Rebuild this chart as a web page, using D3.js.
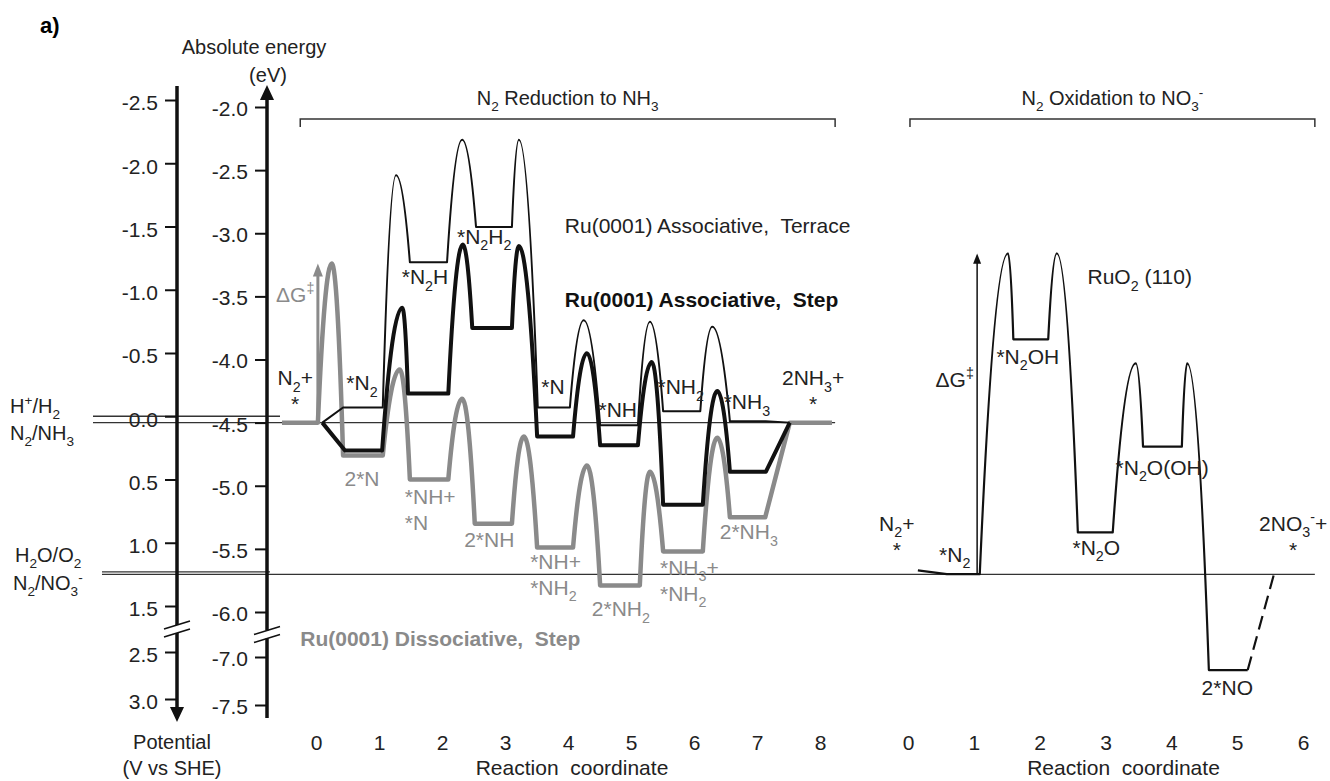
<!DOCTYPE html>
<html>
<head>
<meta charset="utf-8">
<script src="https://cdn.jsdelivr.net/npm/d3@7"></script>
<style>
    body { margin: 0; background: #fff; }
    svg text { font-family: "Liberation Sans", Arial, sans-serif; white-space: pre; }
</style>
</head>
<body>
<svg id="chart" width="1330" height="781"></svg>
<script>
'use strict';

// Axis tick labels
var potentialTicks  = [-2.5, -2.0, -1.5, -1.0, -0.5, 0.0, 0.5, 1.0, 1.5, 2.5, 3.0];   // V vs SHE
var energyTicks     = [-2.0, -2.5, -3.0, -3.5, -4.0, -4.5, -5.0, -5.5, -6.0, -7.0, -7.5]; // eV
var reductionCoords = [0, 1, 2, 3, 4, 5, 6, 7, 8];
var oxidationCoords = [0, 1, 2, 3, 4, 5, 6];

// Reference potentials (V vs SHE)
var refNames      = ['H^{+}/H_{2}', 'N_{2}/NH_{3}', 'H_{2}O/O_{2}', 'N_{2}/NO_{3}^{-}'];
var refPotentials = [0.00, 0.05, 1.23, 1.25];

// Intermediates: [coord from, coord to, G (eV)]; barriers: [coord, G] or null for a plain step
var terraceLevels = [[0.10, 0.10, -4.50], [0.43, 1.06, -4.38], [1.49, 2.08, -3.23], [2.54, 3.11, -2.95],
                     [3.52, 4.03, -4.38], [4.51, 5.11, -4.52], [5.51, 6.10, -4.41], [6.57, 7.14, -4.49],
                     [7.52, 7.52, -4.50]];
var terraceTS     = [null, [1.27, -2.54], [2.32, -2.26], [3.22, -2.26], [4.25, -3.69], [5.30, -3.70],
                     [6.29, -3.74], null];

var stepLevels    = [[0.10, 0.10, -4.50], [0.46, 1.05, -4.72], [1.46, 2.10, -4.27], [2.48, 3.11, -3.75],
                     [3.51, 4.08, -4.61], [4.51, 5.11, -4.68], [5.51, 6.14, -5.15], [6.57, 7.14, -4.89],
                     [7.52, 7.52, -4.50]];
var stepTS        = [null, [1.37, -3.59], [2.33, -3.09], [3.22, -3.10], [4.30, -3.95], [5.33, -4.02],
                     [6.37, -4.25], null];

var dissLevels    = [[-0.54, 0.03, -4.50], [0.43, 1.06, -4.76], [1.49, 2.10, -4.95], [2.52, 3.11, -5.30],
                     [3.51, 4.08, -5.49], [4.51, 5.14, -5.79], [5.51, 6.14, -5.52], [6.57, 7.13, -5.25],
                     [7.52, 8.19, -4.50]];
var dissTS        = [[0.25, -3.24], [1.33, -4.08], [2.32, -4.31], [3.30, -4.61], [4.30, -4.84],
                     [5.30, -4.89], [6.37, -4.62], null];

var ruo2Levels    = [[0.15, 0.15, -5.67], [0.59, 1.09, -5.70], [1.60, 2.13, -3.84], [2.58, 3.11, -5.37],
                     [3.57, 4.16, -4.69], [4.57, 5.16, -6.46]];
var ruo2TS        = [null, [1.52, -3.16], [2.26, -3.16], [3.46, -4.03], [4.24, -4.03]];
var ruo2Final     = [5.57, -5.68]; // 2NO3- + *, reached by the dashed step

// Barrier arrows: [coord, G from, G to]
var dissBarrier = [0.03, -4.50, -3.24];
var ruo2Barrier = [1.05, -5.70, -3.16];

// State labels: [text lines, coord, G]
var reductionLabels = [
    [['N_{2}+', '*'], -0.33, -4.15], [['*N_{2}'], 0.73, -4.19], [['*N_{2}H'], 1.73, -3.35],
    [['*N_{2}H_{2}'], 2.67, -3.03], [['*N'], 3.76, -4.22], [['*NH'], 4.79, -4.40],
    [['*NH_{2}'], 5.79, -4.22], [['*NH_{3}'], 6.84, -4.34], [['2NH_{3}+', '*'], 7.89, -4.15]
];
var dissLabels = [
    [['2*N'], 0.73, -4.95], [['*NH+', '*N'], 1.41, -5.09, 'start'], [['2*NH'], 2.75, -5.43],
    [['*NH+', '*NH_{2}'], 3.40, -5.60, 'start'], [['2*NH_{2}'], 4.84, -5.98],
    [['*NH_{3}+', '*NH_{2}'], 5.46, -5.65, 'start'], [['2*NH_{3}'], 6.87, -5.37]
];
var oxidationLabels = [
    [['N_{2}+', '*'], -0.17, -5.30], [['*N_{2}'], 0.71, -5.55], [['*N_{2}OH'], 1.82, -3.98],
    [['*N_{2}O'], 2.86, -5.49], [['*N_{2}O(OH)'], 3.86, -4.86], [['2*NO'], 4.85, -6.60],
    [['2NO_{3}^{-}+', '*'], 5.85, -5.30]
];

var FS    = 21,
    GREY  = '#8a8a8a',
    BLACK = '#111';

var svg = d3.select('#chart');

var yV     = d3.scaleLinear().domain([-2.5, 1.5, 2.5, 3.0]).range([100, 606, 652, 699]),
    yAxisE = d3.scaleLinear().domain([-2.0, -6.0, -7.0, -7.5]).range([107, 612, 657, 705]),
    yE     = d3.scaleLinear().domain([-2.0, -6.0]).range([107, 612]),
    xL     = d3.scaleLinear().domain([0, 8]).range([316, 820]),
    xR     = d3.scaleLinear().domain([0, 6]).range([908, 1303]);

var axisVX = 177,
    axisEX = 267;

// Text with _{sub} and ^{sup} parts.
function richText(sel, str, fs) {
    var re = /([_^])\{([^}]*)\}/g, last = 0, shift = 0, m;
    while ((m = re.exec(str))) {
        if (m.index > last) {
            sel.append('tspan').attr('dy', -shift).text(str.slice(last, m.index));
            shift = 0;
        }
        var s = m[1] === '_' ? 0.3 * fs : -0.42 * fs;
        sel.append('tspan').attr('font-size', 0.68 * fs).attr('dy', s - shift).text(m[2]);
        shift = s;
        last = re.lastIndex;
    }
    if (last < str.length) {
        sel.append('tspan').attr('dy', -shift).text(str.slice(last));
    }
}

function label(g, x, y, str, o) {
    o = o || {};
    var t = g.append('text')
        .attr('x', x).attr('y', y)
        .attr('font-size', o.fs || FS)
        .attr('fill', o.fill || '#222')
        .attr('font-weight', o.bold ? 'bold' : null)
        .attr('text-anchor', o.anchor || 'middle');
    richText(t, str, o.fs || FS);
    return t;
}

// Levels joined by parabolic barriers (vertex at the transition state).
function profilePath(levels, ts, x, y) {
    var p = d3.path();
    levels.forEach(function (lv, i) {
        if (i === 0) {
            p.moveTo(x(lv[0]), y(lv[2]));
        } else {
            var prev = levels[i - 1], t = ts[i - 1];
            if (t) {
                var xa = x(prev[1]), xp = x(t[0]), yp = y(t[1]), xb = x(lv[0]);
                p.quadraticCurveTo((xa + xp) / 2, yp, xp, yp);
                p.quadraticCurveTo((xp + xb) / 2, yp, xb, y(lv[2]));
            } else {
                p.lineTo(x(lv[0]), y(lv[2]));
            }
        }
        p.lineTo(x(lv[1]), y(lv[2]));
    });
    return p.toString();
}

function arrowUp(g, x, y0, y1, color, w, head) {
    g.append('line').attr('x1', x).attr('x2', x).attr('y1', y0).attr('y2', y1 + head * 1.1)
        .attr('stroke', color).attr('stroke-width', w);
    g.append('path')
        .attr('d', 'M' + x + ',' + y1 + 'l' + (-head / 2) + ',' + (head * 1.3) + 'h' + head + 'z')
        .attr('fill', color);
}

var root = svg.append('g');

// ---- Reference lines
var refG = root.append('g');
var refExtent = [[93, 280], [93, xL(8.24)], [102, 270], [102, xR(6.18)]];
refPotentials.forEach(function (v, i) {
    refG.append('line')
        .attr('x1', refExtent[i][0]).attr('x2', refExtent[i][1])
        .attr('y1', yV(v)).attr('y2', yV(v))
        .attr('stroke', '#333').attr('stroke-width', 1.3);
});
var refLabelDy = [-3, 17, -10, 16];
var refLabelX  = [10, 10, 15, 13];
refNames.forEach(function (n, i) {
    label(refG, refLabelX[i], yV(refPotentials[i]) + refLabelDy[i], n, {anchor: 'start', fs: 20});
});

// ---- Axes
var potAxis = root.append('g')
    .attr('transform', 'translate(' + axisVX + ',0)')
    .call(d3.axisLeft(yV).tickValues(potentialTicks).tickSize(12).tickPadding(7)
        .tickFormat(function (d) { return d.toFixed(1); }));

var enAxis = root.append('g')
    .attr('transform', 'translate(' + axisEX + ',0)')
    .call(d3.axisLeft(yAxisE).tickValues(energyTicks).tickSize(12).tickPadding(7)
        .tickFormat(function (d) { return d.toFixed(1); }));

[potAxis, enAxis].forEach(function (a, i) {
    a.attr('font-size', FS).attr('font-family', null);
    a.select('.domain').remove();
    a.selectAll('.tick line').attr('stroke', BLACK).attr('stroke-width', 2);
    a.selectAll('.tick text').attr('fill', '#222').attr('dy', i === 0 ? '0.47em' : '0.4em');
});

// axis lines with arrows
root.append('line').attr('x1', axisVX).attr('x2', axisVX).attr('y1', 86).attr('y2', 708)
    .attr('stroke', BLACK).attr('stroke-width', 3.5);
root.append('path').attr('d', 'M' + axisVX + ',722l-7,-15h14z').attr('fill', BLACK);
root.append('line').attr('x1', axisEX).attr('x2', axisEX).attr('y1', 98).attr('y2', 718)
    .attr('stroke', BLACK).attr('stroke-width', 3.5);
root.append('path').attr('d', 'M' + axisEX + ',85l-7,15h14z').attr('fill', BLACK);

// axis breaks
function axisBreak(x, y) {
    root.append('rect').attr('x', x - 4).attr('y', y - 4).attr('width', 8).attr('height', 8).attr('fill', '#fff');
    [-4, 4].forEach(function (o) {
        root.append('line')
            .attr('x1', x - 13).attr('y1', y + o + 4)
            .attr('x2', x + 13).attr('y2', y + o - 4)
            .attr('stroke', BLACK).attr('stroke-width', 1.5);
    });
}
axisBreak(axisVX, (yV(1.5) + yV(2.5)) / 2);
axisBreak(axisEX, (yAxisE(-6.0) + yAxisE(-7.0)) / 2);

label(root, 254, 54, 'Absolute energy', {fs: 20});
label(root, 268, 82, '(eV)', {fs: 20});
label(root, 172, 749, 'Potential', {fs: 20});
label(root, 172, 775, '(V vs SHE)', {fs: 20});
label(root, 40, 33, 'a)', {fs: 22, bold: true, anchor: 'start', fill: '#000'});

// ---- Reaction coordinate axes
[[xL, reductionCoords], [xR, oxidationCoords]].forEach(function (p) {
    var a = root.append('g')
        .attr('transform', 'translate(0,728)')
        .call(d3.axisBottom(p[0]).tickValues(p[1]).tickSize(0).tickPadding(7).tickFormat(d3.format('d')));
    a.attr('font-size', FS).attr('font-family', null);
    a.select('.domain').remove();
    a.selectAll('.tick text').attr('fill', '#222');
});
label(root, (xL(0) + xL(8)) / 2 + 4, 775, 'Reaction  coordinate', {fs: 21});
label(root, (xR(0) + xR(6)) / 2 + 18, 775, 'Reaction  coordinate', {fs: 21});

// ---- Brackets and titles
function bracket(x0, x1, title) {
    root.append('path')
        .attr('d', 'M' + x0 + ',127V119H' + x1 + 'V127')
        .attr('fill', 'none').attr('stroke', '#333').attr('stroke-width', 1.5);
    label(root, (x0 + x1) / 2, 105, title, {fs: 20});
}
bracket(xL(-0.25), xL(8.24), 'N_{2} Reduction to NH_{3}');
bracket(xR(0.03), xR(6.18), 'N_{2} Oxidation to NO_{3}^{-}');

// ---- Profiles
var prof = root.append('g').attr('fill', 'none').attr('stroke-linejoin', 'round');

prof.append('path').attr('d', profilePath(dissLevels, dissTS, xL, yE))
    .attr('stroke', GREY).attr('stroke-width', 4.5);
prof.append('path').attr('d', profilePath(stepLevels, stepTS, xL, yE))
    .attr('stroke', BLACK).attr('stroke-width', 4);
prof.append('path').attr('d', profilePath(terraceLevels, terraceTS, xL, yE))
    .attr('stroke', BLACK).attr('stroke-width', 2);
prof.append('path').attr('d', profilePath(ruo2Levels, ruo2TS, xR, yE))
    .attr('stroke', BLACK).attr('stroke-width', 2.2);

var lastLv = ruo2Levels[ruo2Levels.length - 1];
prof.append('line')
    .attr('x1', xR(lastLv[1])).attr('y1', yE(lastLv[2]))
    .attr('x2', xR(ruo2Final[0])).attr('y2', yE(ruo2Final[1]))
    .attr('stroke', BLACK).attr('stroke-width', 2.2).attr('stroke-dasharray', '14,7');

arrowUp(root, xL(dissBarrier[0]), yE(dissBarrier[1]), yE(dissBarrier[2]), GREY, 3, 10);
arrowUp(root, xR(ruo2Barrier[0]), yE(ruo2Barrier[1]), yE(ruo2Barrier[2]), BLACK, 1.5, 8);

// ---- Labels
function stateLabels(list, x, fill) {
    list.forEach(function (l) {
        l[0].forEach(function (line, k) {
            label(root, x(l[1]), yE(l[2]) + 7 + k * 26, line, {fill: fill, anchor: l[3] || 'middle'});
        });
    });
}
stateLabels(reductionLabels, xL, '#222');
stateLabels(dissLabels, xL, GREY);
stateLabels(oxidationLabels, xR, '#222');

label(root, xL(-0.33), yE(-3.49) + 7, '\u0394G^{\u2021}', {fill: GREY});
label(root, xR(0.71), yE(-4.16) + 7, '\u0394G^{\u2021}', {});
label(root, xR(3.52), yE(-3.35) + 7, 'RuO_{2} (110)', {});

label(root, xL(3.95), yE(-2.94) + 7, 'Ru(0001) Associative,  Terrace', {anchor: 'start'});
label(root, xL(3.95), yE(-3.53) + 7, 'Ru(0001) Associative,  Step', {anchor: 'start', bold: true, fill: '#111'});
label(root, xL(-0.25), yE(-6.21) + 7, 'Ru(0001) Dissociative,  Step', {anchor: 'start', bold: true, fill: GREY});
</script>
</body>
</html>
